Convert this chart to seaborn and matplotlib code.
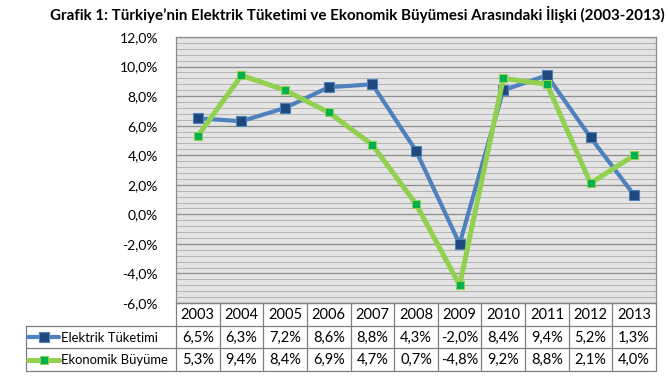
import numpy as np
import pandas as pd
import matplotlib
matplotlib.use("Agg")
import matplotlib.pyplot as plt
from matplotlib.lines import Line2D
from matplotlib.ticker import MultipleLocator, FuncFormatter
import seaborn as sns

years = ["2003", "2004", "2005", "2006", "2007", "2008", "2009", "2010", "2011", "2012", "2013"]
elektrik = [6.5, 6.3, 7.2, 8.6, 8.8, 4.3, -2.0, 8.4, 9.4, 5.2, 1.3]
ekonomik = [5.3, 9.4, 8.4, 6.9, 4.7, 0.7, -4.8, 9.2, 8.8, 2.1, 4.0]
series_names = ["Elektrik Tüketimi", "Ekonomik Büyüme"]
title = "Grafik 1: Türkiye’nin Elektrik Tüketimi ve Ekonomik Büyümesi Arasındaki İlişki (2003-2013)"

sns.set_style("white")
FONT = "Lato"
plt.rcParams["font.family"] = [FONT, "DejaVu Sans"]

W, H = 668, 380
fig = plt.figure(figsize=(W / 100, H / 100), dpi=100)
L, R, T, B = 176, 656, 37, 303
ax = fig.add_axes([L / W, 1 - B / H, (R - L) / W, (B - T) / H])
ax.set_facecolor("#E4E4E4")

df = pd.DataFrame({
    "x": list(range(len(years))) * 2,
    "val": elektrik + ekonomik,
    "series": [series_names[0]] * len(years) + [series_names[1]] * len(years),
})

line_cols = {series_names[0]: "#4F81BD", series_names[1]: "#92D050"}
mk_face = {series_names[0]: "#1F497D", series_names[1]: "#00B050"}
mk_size = {series_names[0]: 6.6, series_names[1]: 5.4}
lws = {series_names[0]: 3.0, series_names[1]: 3.6}

for z, name in enumerate(series_names):
    sns.lineplot(data=df[df.series == name], x="x", y="val", ax=ax,
                 color=line_cols[name], lw=lws[name], marker="s",
                 markersize=mk_size[name], markerfacecolor=mk_face[name],
                 markeredgecolor=line_cols[name], markeredgewidth=0.8,
                 legend=False, zorder=3 + z)

ax.set_xlim(-0.5, len(years) - 0.5)
ax.set_ylim(-6, 12)
ax.yaxis.set_major_locator(MultipleLocator(2))
ax.yaxis.set_minor_locator(MultipleLocator(0.4))
ax.grid(which="major", axis="y", color="#8C8C8C", lw=0.9)
ax.grid(which="minor", axis="y", color="#B4B4B4", lw=0.7)
ax.set_axisbelow(True)
ax.yaxis.set_major_formatter(FuncFormatter(lambda v, p: f"{v:.1f}%".replace(".", ",")))
ax.tick_params(axis="y", which="both", length=0, pad=13, labelsize=10, labelcolor="#000000")
ax.tick_params(axis="x", which="both", length=0, labelbottom=False)
ax.set_xlabel("")
ax.set_ylabel("")
for s in ax.spines.values():
    s.set_color("#8C8C8C")
    s.set_linewidth(0.9)

# data table beneath
tcol = "#7F7F7F"
def fx(px):
    return px / W
def fy(py):
    return 1 - py / H

row_tops = [303, 326, 348, 371]
col_w = (R - L) / len(years)
tleft = 26
lines = []
lines.append(((L, R), (row_tops[0], row_tops[0])))
for yy in row_tops[1:]:
    lines.append(((tleft, R), (yy, yy)))
for i in range(len(years) + 1):
    xx = L + i * col_w
    lines.append(((xx, xx), (row_tops[0], row_tops[-1])))
lines.append(((tleft, tleft), (row_tops[1], row_tops[-1])))
for (xs, ys) in lines:
    fig.add_artist(Line2D([fx(xs[0]), fx(xs[1])], [fy(ys[0]), fy(ys[1])],
                          color=tcol, lw=0.9, transform=fig.transFigure))

fmt = lambda v: f"{v:.1f}%".replace(".", ",")
rows = [years, [fmt(v) for v in elektrik], [fmt(v) for v in ekonomik]]
for r, vals in enumerate(rows):
    yc = (row_tops[r] + row_tops[r + 1]) / 2 + 0.5
    for i, v in enumerate(vals):
        xc = L + (i + 0.5) * col_w
        fig.text(fx(xc), fy(yc), v, ha="center", va="center", fontsize=10.5, color="#000000")

for k, name in enumerate(series_names):
    yc = (row_tops[k + 1] + row_tops[k + 2]) / 2
    fig.add_artist(Line2D([fx(28), fx(59)], [fy(yc), fy(yc)], color=line_cols[name],
                          lw=lws[name], transform=fig.transFigure, solid_capstyle="round"))
    fig.add_artist(Line2D([fx(43.5)], [fy(yc)], marker="s", markersize=mk_size[name],
                          markerfacecolor=mk_face[name], markeredgecolor=line_cols[name],
                          markeredgewidth=0.8, transform=fig.transFigure))
    fig.text(fx(61), fy(yc + 0.5), name, ha="left", va="center", fontsize=9.4, color="#000000")

fig.text(fx(357), fy(14), title, ha="center", va="center", fontsize=10.9,
         fontweight="bold", color="#000000")

fig.savefig("out.png", dpi=100, facecolor="white")
